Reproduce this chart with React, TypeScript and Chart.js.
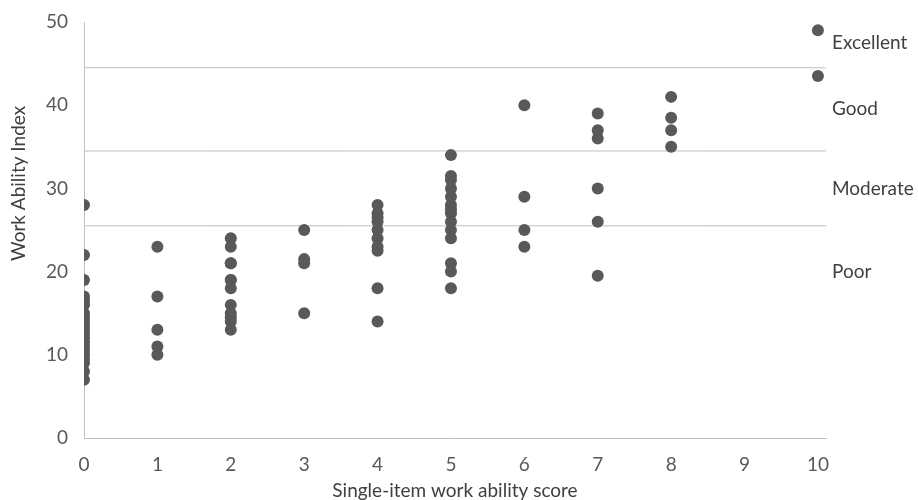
import React, { useEffect, useRef } from "react";
import { Chart, registerables } from "chart.js";

Chart.register(...registerables);

// Scatter data: single-item work ability score (x) vs Work Ability Index (y)
const score0 = [28, 22, 19, 17, 16.5, 16, 15, 14.5, 14, 13.5, 13, 12.5, 12, 11.5, 11, 10.5, 10, 9.5, 9, 8, 7];
const score1 = [23, 17, 13, 11, 10];
const score2 = [24, 23, 21, 21, 19, 19, 18, 16, 15, 14.5, 14, 13];
const score3 = [25, 21.5, 21, 15];
const score4 = [28, 27, 26.5, 26, 25, 24, 23, 22.5, 18, 14];
const score5 = [34, 31.5, 31, 30, 29, 28, 27.5, 27, 26, 25, 24, 21, 20, 18];
const score6 = [40, 29, 25, 23];
const score7 = [39, 37, 36, 30, 26, 19.5];
const score8 = [41, 38.5, 37, 35];
const score10 = [49, 43.5];

const xScores = [0, 1, 2, 3, 4, 5, 6, 7, 8, 10];
const yByScore = [score0, score1, score2, score3, score4, score5, score6, score7, score8, score10];

const xTicks = [0, 1, 2, 3, 4, 5, 6, 7, 8, 9, 10];
const yTicks = [0, 10, 20, 30, 40, 50];

// Category cut-off lines and labels
const bandCutoffs = [25.5, 34.5, 44.5];
const bandLabels = ["Excellent", "Good", "Moderate", "Poor"];
const bandLabelValues = [47.5, 39.5, 30, 20];

const X_MIN = 0;
const X_MAX = 10.11;
const Y_MIN = 0;
const Y_MAX = 50;

const FONT = "Lato, 'Open Sans', sans-serif";
const FS = 19;

export default function App() {
  const canvasRef = useRef<HTMLCanvasElement | null>(null);

  useEffect(() => {
    if (!canvasRef.current) return;

    const points: { x: number; y: number }[] = [];
    xScores.forEach((x, i) => {
      yByScore[i].forEach((y) => points.push({ x, y }));
    });

    const lineSets = bandCutoffs.map((c) => ({
      type: "line" as const,
      data: [
        { x: X_MIN, y: c },
        { x: X_MAX, y: c },
      ],
      borderColor: "#bfbfbf",
      borderWidth: 1,
      pointRadius: 0,
      fill: false,
      order: 2,
    }));

    const sidePlugin = {
      id: "sideText",
      afterDraw(chart: any) {
        const { ctx, chartArea, scales } = chart;
        ctx.save();
        // band labels
        ctx.fillStyle = "#404040";
        ctx.font = `${FS}px ${FONT}`;
        ctx.textAlign = "left";
        ctx.textBaseline = "middle";
        bandLabels.forEach((t, i) => {
          ctx.fillText(t, chartArea.right + 6, scales.y.getPixelForValue(bandLabelValues[i]));
        });
        // y axis title
        ctx.fillStyle = "#404040";
        ctx.font = `${FS}px ${FONT}`;
        ctx.textAlign = "center";
        ctx.textBaseline = "middle";
        ctx.translate(19, scales.y.getPixelForValue(30.6));
        ctx.rotate(-Math.PI / 2);
        ctx.fillText("Work Ability Index", 0, 0);
        ctx.restore();
      },
    };

    const chart = new Chart(canvasRef.current, {
      type: "scatter",
      data: {
        datasets: [
          {
            type: "scatter",
            data: points,
            backgroundColor: "#595959",
            borderColor: "#595959",
            borderWidth: 0,
            pointRadius: 6,
            pointHoverRadius: 6,
            order: 1,
          } as any,
          ...(lineSets as any[]),
        ],
      },
      options: {
        animation: false,
        responsive: false,
        maintainAspectRatio: false,
        layout: { padding: { left: 36, right: 92, top: 22, bottom: -2 } },
        plugins: {
          legend: { display: false },
          tooltip: { enabled: false },
        },
        scales: {
          x: {
            type: "linear",
            min: X_MIN,
            max: X_MAX,
            afterBuildTicks: (s: any) => {
              s.ticks = xTicks.map((v) => ({ value: v }));
            },
            afterFit: (s: any) => {
              s.height = 64;
              s.paddingLeft = 0;
              s.paddingRight = 0;
            },
            grid: { display: false, drawTicks: false },
            border: { display: true, color: "#bfbfbf", width: 1 },
            ticks: {
              color: "#595959",
              font: { family: FONT, size: FS },
              padding: 15,
              maxRotation: 0,
            },
            title: {
              display: true,
              text: "Single-item work ability score",
              color: "#404040",
              font: { family: FONT, size: FS },
              padding: { top: 2, bottom: 0 },
            },
          },
          y: {
            type: "linear",
            min: Y_MIN,
            max: Y_MAX,
            afterBuildTicks: (s: any) => {
              s.ticks = yTicks.map((v) => ({ value: v }));
            },
            afterFit: (s: any) => {
              s.width = 48;
              s.paddingTop = 0;
              s.paddingBottom = 0;
            },
            grid: { display: false, drawTicks: false },
            border: { display: true, color: "#bfbfbf", width: 1 },
            ticks: {
              color: "#595959",
              font: { family: FONT, size: FS },
              padding: 16,
            },
          },
        },
      },
      plugins: [sidePlugin],
    });

    return () => chart.destroy();
  }, []);

  return (
    <div style={{ position: "fixed", left: 0, top: 0, width: 918, height: 500, background: "#fff" }}>
      <canvas ref={canvasRef} width={918} height={500} style={{ width: 918, height: 500 }} />
    </div>
  );
}
